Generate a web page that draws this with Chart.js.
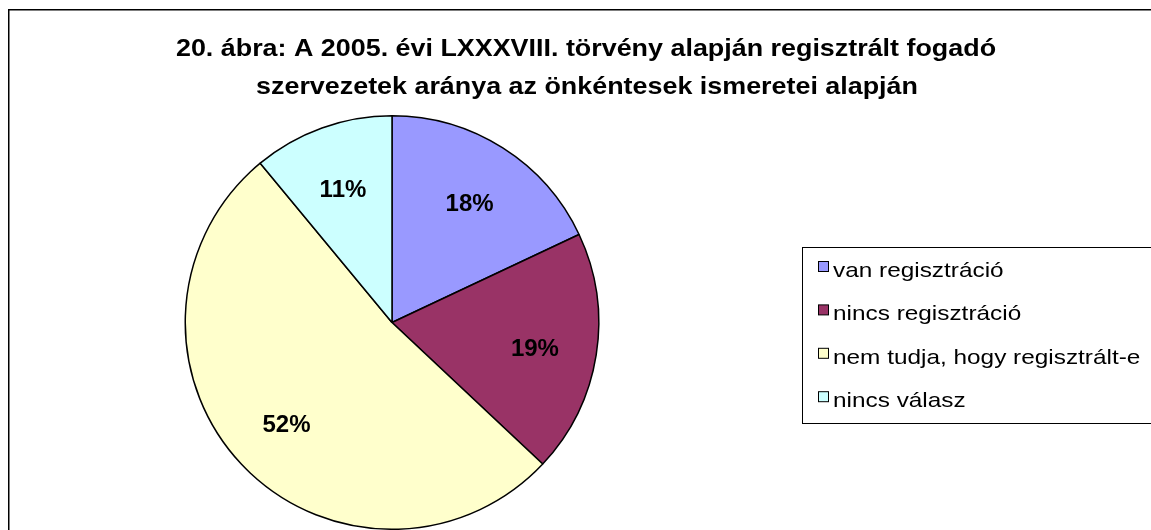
<!DOCTYPE html>
<html>
<head>
<meta charset="utf-8">
<script src="https://cdn.jsdelivr.net/npm/chart.js@4.4.0/dist/chart.umd.min.js"></script>
<style>
    body { margin: 0; background: #fff; }
    canvas { display: block; }
</style>
</head>
<body>
<canvas id="pie-chart" width="1151" height="530"></canvas>
<script>
// Chart data
const titleLines = [
    '20. ábra: A 2005. évi LXXXVIII. törvény alapján regisztrált fogadó',
    'szervezetek aránya az önkéntesek ismeretei alapján'
];
const categories = ['van regisztráció', 'nincs regisztráció', 'nem tudja, hogy regisztrált-e', 'nincs válasz'];
const shares = [18, 19, 52, 11];
const sliceColors = ['#9999FF', '#993366', '#FFFFCC', '#CCFFFF'];

const FONT = "'Liberation Sans', Arial, sans-serif";

// draw text squeezed/stretched horizontally (the original is a scaled Excel picture)
function stretchText(ctx, text, x, y, align, sx) {
    ctx.save();
    ctx.translate(x, y);
    ctx.scale(sx, 1);
    ctx.textAlign = align;
    ctx.fillText(text, 0, 0);
    ctx.restore();
}

// Frame, title, slice labels and boxed legend
const excelLook = {
    id: 'excelLook',
    beforeDraw(chart) {
        const ctx = chart.ctx;
        ctx.save();
        ctx.fillStyle = '#fff';
        ctx.fillRect(0, 0, chart.width, chart.height);
        ctx.strokeStyle = '#000';
        ctx.lineWidth = 1.5;
        ctx.strokeRect(8.75, 9.75, chart.width + 20, chart.height + 20);
        ctx.restore();
    },
    afterDatasetsDraw(chart) {
        const ctx = chart.ctx;
        ctx.save();
        ctx.fillStyle = '#000';
        ctx.textBaseline = 'alphabetic';

        // title
        ctx.font = 'bold 24px ' + FONT;
        stretchText(ctx, titleLines[0], 586, 56, 'center', 1.12);
        stretchText(ctx, titleLines[1], 587, 94, 'center', 1.12);

        // percentage labels on slices
        ctx.font = 'bold 24px ' + FONT;
        ctx.textBaseline = 'middle';
        const meta = chart.getDatasetMeta(0);
        meta.data.forEach((arc, i) => {
            const p = arc.getProps(['x', 'y', 'startAngle', 'endAngle', 'outerRadius'], true);
            const mid = (p.startAngle + p.endAngle) / 2;
            const r = p.outerRadius * 0.7;
            stretchText(ctx, shares[i] + '%', p.x + Math.cos(mid) * r, p.y + Math.sin(mid) * r + 4, 'center', 1);
        });

        // legend box
        ctx.strokeStyle = '#000';
        ctx.lineWidth = 1;
        ctx.strokeRect(802.5, 247.5, 400, 176);
        ctx.font = '21px ' + FONT;
        ctx.textBaseline = 'alphabetic';
        categories.forEach((label, i) => {
            const base = 277 + i * 43.4;
            ctx.fillStyle = sliceColors[i];
            ctx.fillRect(818.5, base - 15.5, 10, 10);
            ctx.strokeRect(818.5, base - 15.5, 10, 10);
            ctx.fillStyle = '#000';
            stretchText(ctx, label, 833, base, 'left', 1.16);
        });
        ctx.restore();
    }
};

const pieChart = new Chart(document.getElementById('pie-chart').getContext('2d'), {
    type: 'pie',
    data: {
        labels: categories,
        datasets: [{
            data: shares,
            backgroundColor: sliceColors,
            borderColor: '#000',
            borderWidth: 1.5
        }]
    },
    options: {
        responsive: false,
        animation: false,
        events: [],
        layout: {
            padding: { left: 184, top: 115, right: 551, bottom: 0 }
        },
        plugins: {
            legend: { display: false },
            title: { display: false },
            tooltip: { enabled: false }
        }
    },
    plugins: [excelLook]
});
</script>
</body>
</html>
